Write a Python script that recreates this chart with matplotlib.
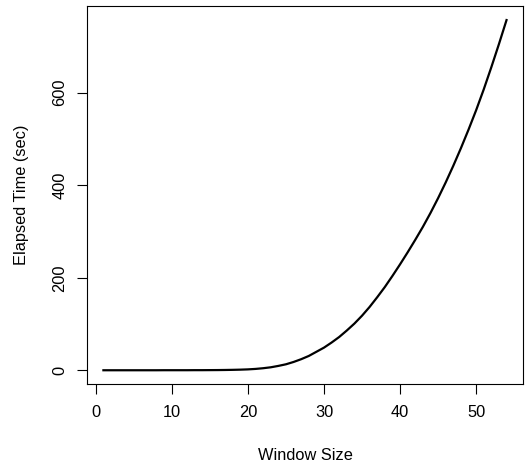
import numpy as np
import matplotlib.pyplot as plt

plt.rcParams['font.family'] = ['Liberation Sans', 'DejaVu Sans']

window = list(range(1, 55))
elapsed = [0.1, 0.1, 0.1, 0.1, 0.1, 0.1, 0.1, 0.1, 0.2, 0.2,
           0.2, 0.2, 0.3, 0.3, 0.4, 0.5, 0.7, 1.0, 1.4, 2.0,
           3.0, 4.5, 6.5, 9.5, 13, 18, 24, 31, 40, 49,
           60, 72, 86, 101, 118, 137, 158, 180, 204, 229,
           255, 282, 310, 340, 372, 406, 442, 480, 520, 562,
           607, 655, 705, 757]

fig = plt.figure(figsize=(5.29, 4.65), dpi=100)
ax = fig.add_axes([0.165, 0.1735, 0.823, 0.8135])
ax.plot(window, elapsed, color='black', lw=1.6)

ax.set_xlim(-1.12, 56.12)
ax.set_ylim(-30.3, 787.3)
ax.set_xticks([0, 10, 20, 30, 40, 50])
ax.set_yticks([0, 200, 400, 600])
ax.tick_params(direction='out', length=7.2, width=0.8, labelsize=11.8)
ax.tick_params(axis='x', pad=8)
ax.tick_params(axis='y', pad=7)
for lab in ax.get_yticklabels():
    lab.set_rotation(90)
    lab.set_va('center')
for s in ax.spines.values():
    s.set_linewidth(0.8)

ax.set_xlabel('Window Size', fontsize=11.8, labelpad=20)
ax.set_ylabel('Elapsed Time (sec)', fontsize=11.8, labelpad=17)

fig.savefig('out.png', dpi=100)
